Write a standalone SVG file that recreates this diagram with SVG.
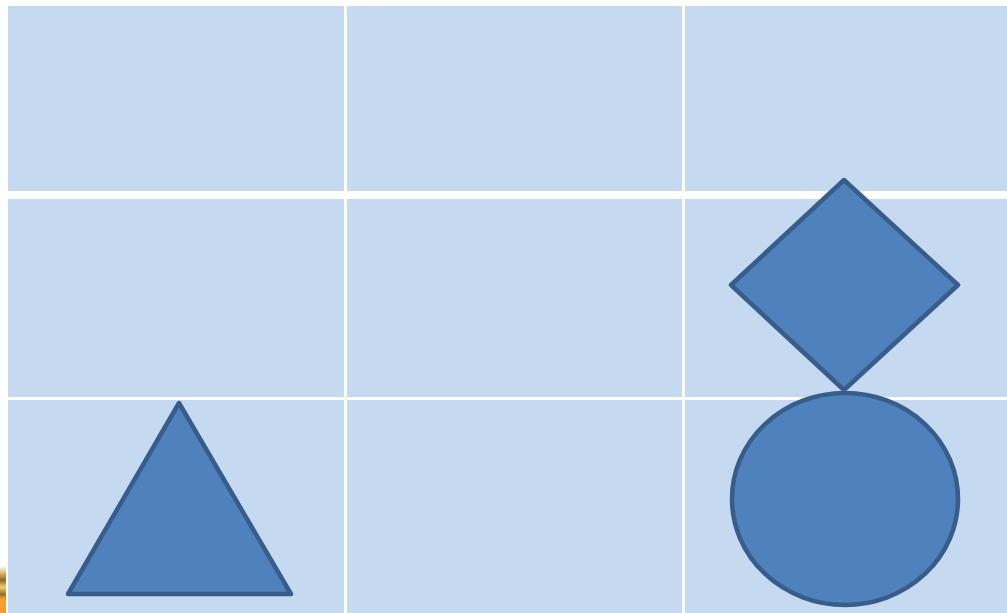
<svg xmlns="http://www.w3.org/2000/svg" width="1007" height="613" viewBox="0 0 1007 613">
<defs>
<style>
.cell{fill:#c5d9f1}
.shape{fill:#4f81bd;stroke:#385d8a;stroke-width:4.5;stroke-linejoin:round}
</style>
<linearGradient id="pic" x1="0" y1="0" x2="0" y2="1">
<stop offset="0" stop-color="#ffffff"/>
<stop offset="0.15" stop-color="#d9b86a"/>
<stop offset="0.3" stop-color="#8a6a2a"/>
<stop offset="0.45" stop-color="#f4d070"/>
<stop offset="0.6" stop-color="#9a7020"/>
<stop offset="0.7" stop-color="#f7a030"/>
<stop offset="1" stop-color="#f79a30"/>
</linearGradient>
</defs>
<rect x="0" y="0" width="1007" height="613" fill="#ffffff"/>
<g id="grid">
<rect class="cell" x="8" y="6" width="336" height="185"/>
<rect class="cell" x="347" y="6" width="335" height="185"/>
<rect class="cell" x="685" y="6" width="322" height="185"/>
<rect class="cell" x="8" y="199" width="336" height="198"/>
<rect class="cell" x="347" y="199" width="335" height="198"/>
<rect class="cell" x="685" y="199" width="322" height="198"/>
<rect class="cell" x="8" y="400" width="336" height="213"/>
<rect class="cell" x="347" y="400" width="335" height="213"/>
<rect class="cell" x="685" y="400" width="322" height="213"/>
</g>
<rect x="0" y="566" width="6" height="47" fill="url(#pic)"/>
<g id="triangle">
<polygon class="shape" points="179,403 291,594 68,594"/>
</g>
<g id="diamond">
<polygon class="shape" points="844,180 958,285 844,390 731,285"/>
</g>
<g id="ellipse">
<ellipse class="shape" cx="845" cy="499" rx="113" ry="106"/>
</g>
<g id="connectors"></g>
</svg>
